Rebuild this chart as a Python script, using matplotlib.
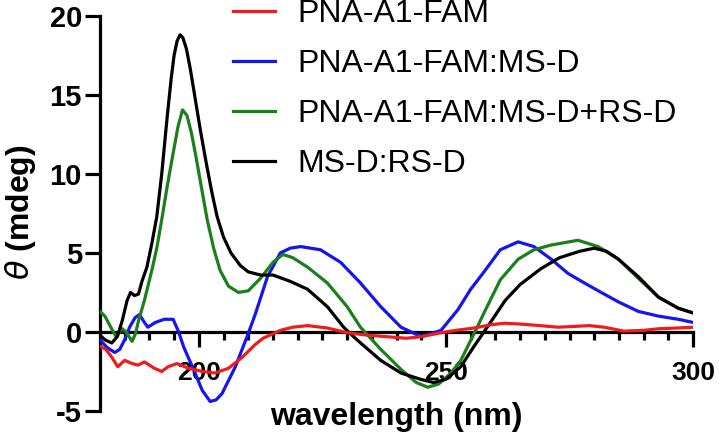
import matplotlib.pyplot as plt
import numpy as np

plt.rcParams['font.family'] = ['Liberation Sans', 'DejaVu Sans']
plt.rcParams['axes.unicode_minus'] = False

# PNA-A1-FAM
wl_red = [180, 181.2, 182.4, 183.6, 185, 186.5, 187.7, 189, 190, 191, 192.5, 193.8, 195.6,
          197.9, 200.7, 203.3, 206, 208.8, 211.4, 213, 216.5, 219, 222, 226, 230, 234, 238,
          242, 245, 249, 252, 255.7, 259, 261.8, 265, 269, 272.7, 276, 279, 282, 286, 290,
          293, 297, 300]
cd_red = [-0.9, -1.1, -1.6, -2.2, -1.8, -2.0, -2.1, -1.9, -2.1, -2.3, -2.5, -2.2, -2.0,
          -2.3, -2.5, -2.6, -2.3, -1.6, -0.8, -0.4, 0.1, 0.3, 0.4, 0.25, -0.05, -0.2, -0.3,
          -0.4, -0.3, -0.05, 0.1, 0.25, 0.45, 0.55, 0.5, 0.4, 0.3, 0.35, 0.4, 0.3, 0.05, 0.1,
          0.2, 0.25, 0.3]

# PNA-A1-FAM:MS-D
wl_blue = [180, 181.5, 183, 184, 185, 186, 187.1, 188, 189, 189.7, 191.2, 193, 194.8, 195.8,
           197, 198.7, 200.7, 202.3, 203.5, 204.7, 207.4, 210, 211.4, 213.9, 216.5, 218.5,
           220.6, 224.6, 228.7, 232.7, 236.8, 240.9, 245, 249, 252.4, 255, 257.7, 261, 264.6,
           267.8, 271.3, 274.7, 278, 281.4, 284.9, 288.9, 293, 297, 300]
cd_blue = [-0.5, -1.0, -1.3, -1.1, -0.5, 0.3, 0.9, 1.1, 0.6, 0.3, 0.6, 0.8, 0.8, 0.1,
           -1.0, -2.2, -3.7, -4.4, -4.3, -3.9, -2.2, -0.1, 1.1, 3.5, 5.0, 5.3,
           5.4, 5.2, 4.4, 3.1, 1.6, 0.3, -0.3, 0.1, 1.4, 2.7, 3.8, 5.2, 5.7,
           5.4, 4.6, 3.7, 3.1, 2.5, 1.9, 1.3, 1.0, 0.8, 0.6]

# PNA-A1-FAM:MS-D+RS-D
wl_green = [180, 181, 182.7, 183.3, 184.5, 185.3, 186.5, 187.2, 187.8, 189, 190.5, 191.5,
            192.5, 193.6, 194.8, 195.8, 196.7, 197.6, 198.5, 199.3, 200.5, 201.7, 203, 204.3,
            206, 208, 210, 212.5, 215, 217, 219, 222, 226, 230, 232.7, 236.8, 241, 244, 246.3,
            248.5, 251, 253, 255.7, 258, 261, 264.6, 267.8, 271.3, 276.7, 280.8, 284.9, 288.9,
            293, 297, 300]
cd_green = [1.3, 1.0, 0.0, -0.3, 0.2, 0.0, -0.6, -0.1, 0.7, 2.0, 3.9, 5.3,
            7.1, 9.2, 11.3, 13.0, 14.05, 13.7, 12.6, 11.3, 9.2, 7.1, 5.3, 3.9,
            2.9, 2.5, 2.6, 3.4, 4.4, 4.9, 4.7, 4.1, 3.1, 1.6, 0.3, -1.1, -2.4, -3.2, -3.5,
            -3.3, -2.6, -1.8, -0.1, 1.4, 3.3, 4.6, 5.2, 5.5, 5.8, 5.4, 4.6, 3.4,
            2.2, 1.5, 1.2]

# MS-D:RS-D
wl_black = [180, 181, 182.4, 183.5, 184.5, 185.5, 186.2, 187, 187.8, 188.5, 189.5, 190.5,
            191.5, 192.5, 193.6, 194.4, 195, 195.6, 196.2, 196.8, 197.5, 198.3, 199.3, 200.3,
            201.5, 202.6, 203.7, 205, 206.5, 208.4, 210, 212.5, 215, 218.5, 222, 226, 229.3,
            232, 236.8, 240.9, 244.9, 247.5, 250, 253, 255.7, 259, 262, 265, 269.2, 273, 277,
            280, 282.5, 284.9, 288.9, 293, 297, 300]
cd_black = [-0.2, -0.5, -0.7, -0.3, 0.7, 2.0, 2.5, 2.3, 2.4, 3.2, 4.1, 5.6,
            7.3, 10.0, 13.6, 16.0, 17.5, 18.4, 18.8, 18.6, 17.9, 16.6, 14.7, 12.8,
            10.7, 8.9, 7.3, 6.0, 5.0, 4.2, 3.8, 3.6, 3.6, 3.2, 2.7, 1.6, 0.3,
            -0.5, -1.8, -2.6, -3.0, -3.2, -3.0, -2.2, -0.9, 0.6, 2.0, 3.0, 4.0, 4.7, 5.1,
            5.3, 5.1, 4.6, 3.5, 2.2, 1.5, 1.2]

labels = ['PNA-A1-FAM', 'PNA-A1-FAM:MS-D', 'PNA-A1-FAM:MS-D+RS-D', 'MS-D:RS-D']

fig = plt.figure(figsize=(7.19, 4.40), dpi=100)
ax = fig.add_axes([0.139, 0.066, 0.825, 0.898])

lw = 2.3
l1, = ax.plot(wl_red, cd_red, color='#f01c1c', lw=lw, zorder=7)
l2, = ax.plot(wl_blue, cd_blue, color='#1515f0', lw=lw, zorder=4)
l3, = ax.plot(wl_green, cd_green, color='#1b801b', lw=lw, zorder=5)
l4, = ax.plot(wl_black, cd_black, color='black', lw=lw, zorder=6)

ax.set_xlim(180, 300)
ax.set_ylim(-5, 20)
ax.spines['top'].set_visible(False)
ax.spines['right'].set_visible(False)
ax.spines['bottom'].set_position(('data', 0))
for s in ['left', 'bottom']:
    ax.spines[s].set_linewidth(2.3)

ax.set_xticks([200, 250, 300])
ax.set_xticks(np.arange(185, 300, 5), minor=True)
ax.set_yticks([-5, 0, 5, 10, 15, 20])
ax.tick_params(axis='x', which='major', length=11, width=2.3, pad=10, labelsize=19)
ax.tick_params(axis='x', which='minor', length=5.5, width=2.3)
ax.tick_params(axis='y', which='major', length=11, width=2.3, pad=2, labelsize=21)
for t in ax.get_xticklabels() + ax.get_yticklabels():
    t.set_fontweight('bold')

fig.text(0.551, 0.053, 'wavelength (nm)', ha='center', va='center',
         fontsize=23, fontweight='bold')
fig.text(0.029, 0.518, r'$\theta$ (mdeg)', ha='center', va='center',
         fontsize=23, fontweight='bold', rotation=90)

fig.legend([l1, l2, l3, l4], labels, loc='upper left', bbox_to_anchor=(0.315, 1.016),
           frameon=False, fontsize=23, handlelength=1.31, handletextpad=0.72,
           labelspacing=0.62, borderpad=0.2, borderaxespad=0)

fig.savefig('out.png', dpi=100)
